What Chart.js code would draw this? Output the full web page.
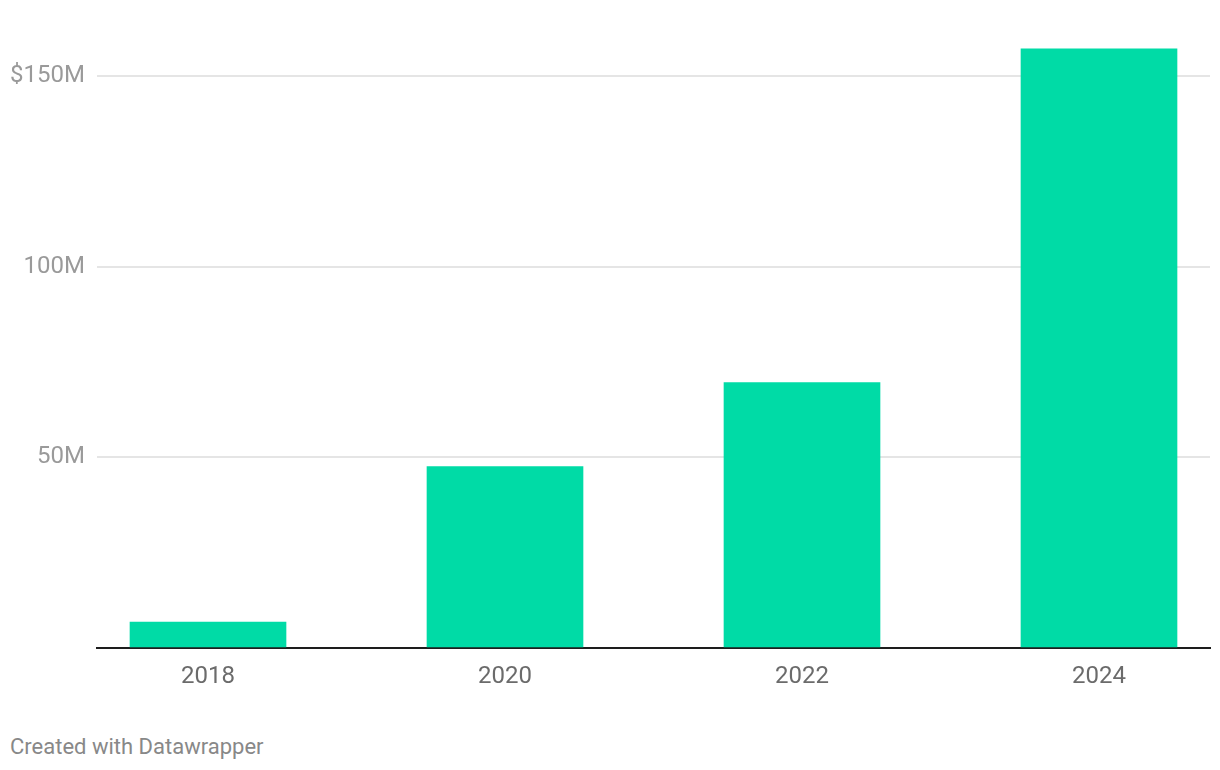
<!DOCTYPE html>
<html>
<head>
<meta charset="utf-8">
<script src="https://cdn.jsdelivr.net/npm/chart.js@4.4.1/dist/chart.umd.min.js"></script>
<style>
  html, body { margin: 0; padding: 0; background: #fff; }
  #wrap { position: relative; width: 1220px; height: 700px; }
  #footer { position: absolute; left: 10px; top: 734px; font-family: Roboto, sans-serif; font-size: 22px; color: #888; }
</style>
</head>
<body>
<div id="wrap"><canvas id="chart"></canvas></div>
<div id="footer">Created with Datawrapper</div>
<script>
// values in millions of dollars
var years = [2018, 2020, 2022, 2024];
var revenue = [6.8, 47.6, 69.6, 157.1];
var yTicks = [0, 50, 100, 150];
var yTickLabels = ['', '50M', '100M', '$150M'];

var ctx = document.getElementById('chart').getContext('2d');

const chart = new Chart(ctx, {
    type: 'bar',
    data: {
        datasets: [{
            data: years.map(function (y, i) { return { x: y, y: revenue[i] }; }),
            backgroundColor: '#00dba6',
            barThickness: 156
        }]
    },
    options: {
        responsive: true,
        maintainAspectRatio: false,
        animation: false,
        layout: { padding: { top: 10, right: 10, left: 0, bottom: 0 } },
        plugins: {
            legend: { display: false },
            tooltip: { enabled: false }
        },
        scales: {
            x: {
                type: 'linear',
                min: 2017.2525,
                max: 2024.7475,
                offset: false,
                z: 1,
                grid: { display: false, drawTicks: false },
                border: { display: true, color: '#1d1d1d', width: 2 },
                afterBuildTicks: function (scale) {
                    scale.ticks = years.map(function (v) { return { value: v }; });
                },
                afterFit: function (scale) { scale.height = 52; },
                ticks: {
                    padding: 15,
                    color: '#6b6b6b',
                    font: { family: 'Roboto', size: 24 },
                    callback: function (v) { return String(v); }
                }
            },
            y: {
                min: 0,
                max: 163,
                grid: {
                    drawTicks: false,
                    color: function (c) { return c.tick && c.tick.value === 0 ? 'rgba(0,0,0,0)' : '#e5e5e5'; },
                    lineWidth: 2
                },
                border: { display: false },
                afterBuildTicks: function (scale) {
                    scale.ticks = yTicks.map(function (v) { return { value: v }; });
                },
                afterFit: function (scale) { scale.width = 97; },
                ticks: {
                    padding: 12,
                    color: '#9a9a9a',
                    font: { family: 'Roboto', size: 24 },
                    callback: function (v) { return yTickLabels[yTicks.indexOf(v)]; }
                }
            }
        }
    }
});
</script>
</body>
</html>
